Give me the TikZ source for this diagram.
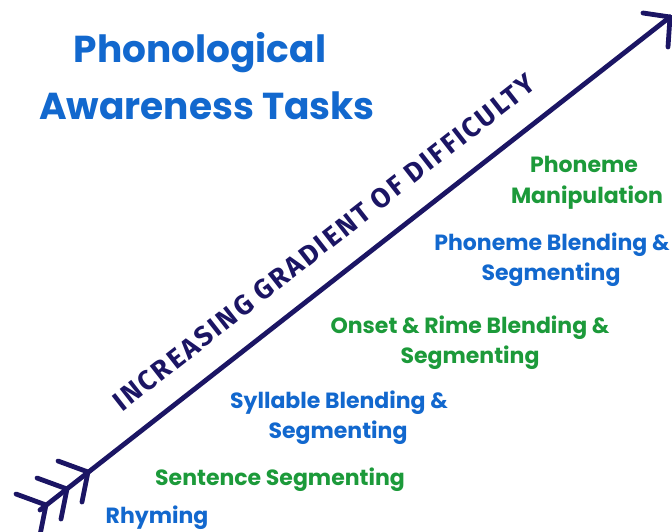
\documentclass[tikz,border=0pt]{standalone}
\usepackage{fontspec}
\newfontfamily\titlefont{Poppins}
\newfontfamily\markerfont{Fira Sans}[LetterSpace=8]
\definecolor{navy}{RGB}{27,21,100}
\definecolor{taskblue}{RGB}{18,104,206}
\definecolor{taskgreen}{RGB}{28,154,58}

\begin{document}
\begin{tikzpicture}[x=1pt,y=-1pt,
  heading/.style={font=\titlefont\bfseries\fontsize{37.5}{37.5}\selectfont,
    text=taskblue, inner sep=0pt, anchor=base},
  bluetask/.style={font=\titlefont\bfseries\fontsize{22}{22}\selectfont,
    text=taskblue, inner sep=0pt, anchor=base},
  greentask/.style={bluetask, text=taskgreen},
  gradient/.style={font=\markerfont\bfseries\fontsize{27.5}{27.5}\selectfont,
    text=navy, inner sep=0pt, anchor=base},
  shaft/.style={draw=navy, line width=4.8pt, line cap=round, line join=round}]

  % canvas
  \path[use as bounding box, fill=white] (0,0) rectangle (672,532);

  % title
  \node[heading] (title1) at (200,63) {Phonological};
  \node[heading] (title2) at (207,120) {Awareness Tasks};

  % difficulty arrow
  \coordinate (tail) at (40,510);
  \coordinate (tip)  at (670,17);
  \coordinate (v1) at (88,472);
  \coordinate (v2) at (67,489);
  \coordinate (v3) at (46,505);
  \draw[shaft] (tail) -- (tip);
  \draw[shaft] (tip) -- ++(-27,-4);
  \draw[shaft] (tip) -- ++(-2,30);
  \foreach \v in {v1,v2,v3}{
    \draw[shaft] (\v) -- ++(-30,-11);
    \draw[shaft] (\v) -- ++(-6,30);
  }

  \node[gradient, rotate=38.05] (grad) at (330,250)
    {INCREASING GRADIENT OF DIFFICULTY};

  % tasks, easiest at the bottom
  \node[greentask] (pm1) at (584,172) {Phoneme};
  \node[greentask] (pm2) at (587,203) {Manipulation};
  \node[bluetask]  (pb1) at (552,250) {Phoneme Blending \&};
  \node[bluetask]  (pb2) at (551,280) {Segmenting};
  \node[greentask] (or1) at (470,333) {Onset \& Rime Blending \&};
  \node[greentask] (or2) at (470,363) {Segmenting};
  \node[bluetask]  (sb1) at (339,408) {Syllable Blending \&};
  \node[bluetask]  (sb2) at (338,438) {Segmenting};
  \node[greentask] (ss)  at (280,485) {Sentence Segmenting};
  \node[bluetask]  (rh)  at (157,523) {Rhyming};
\end{tikzpicture}
\end{document}
